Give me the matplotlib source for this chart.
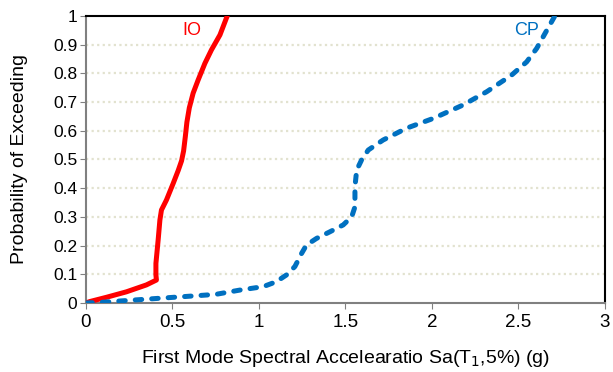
import matplotlib
matplotlib.use("Agg")
import matplotlib.pyplot as plt

plt.rcParams['font.family'] = ['Liberation Sans', 'DejaVu Sans']

# fragility curves (Sa in g, probability of exceeding)
io_sa = [0.0, 0.023, 0.12, 0.235, 0.35, 0.408, 0.405, 0.405, 0.418, 0.428, 0.437,
         0.466, 0.505, 0.534, 0.553, 0.565, 0.575, 0.584, 0.598, 0.62, 0.649, 0.688,
         0.726, 0.775, 0.817]
io_p = [0.0, 0.005, 0.02, 0.039, 0.063, 0.08, 0.098, 0.138, 0.22, 0.289, 0.324,
        0.359, 0.417, 0.462, 0.495, 0.53, 0.58, 0.63, 0.68, 0.731, 0.777, 0.835,
        0.882, 0.934, 1.0]

cp_sa = [0.0, 0.08, 0.27, 0.56, 0.75, 0.89, 1.025, 1.10, 1.16, 1.208, 1.247, 1.275,
         1.333, 1.41, 1.487, 1.536, 1.555, 1.555, 1.565, 1.593, 1.632, 1.718, 1.853,
         2.007, 2.18, 2.316, 2.46, 2.547, 2.605, 2.653, 2.71]
cp_p = [0.0, 0.002, 0.01, 0.022, 0.03, 0.045, 0.057, 0.074, 0.098, 0.127, 0.173,
        0.202, 0.225, 0.248, 0.272, 0.30, 0.335, 0.405, 0.463, 0.498, 0.533, 0.568,
        0.609, 0.643, 0.69, 0.736, 0.794, 0.84, 0.887, 0.939, 1.0]

xticks = [0, 0.5, 1, 1.5, 2, 2.5, 3]
xticklabels = ['0', '0.5', '1', '1.5', '2', '2.5', '3']
yticks = [0, 0.1, 0.2, 0.3, 0.4, 0.5, 0.6, 0.7, 0.8, 0.9, 1]
yticklabels = ['0', '0.1', '0.2', '0.3', '0.4', '0.5', '0.6', '0.7', '0.8', '0.9', '1']

fig = plt.figure(figsize=(6.13, 3.72), dpi=100)
ax = fig.add_axes([0.140, 0.1855, 0.847, 0.7715])

for y in yticks[1:-1]:
    ax.axhline(y, color='#e2e2cf', linestyle=(0, (1, 1.5)), linewidth=1.6, zorder=1)

ax.plot(io_sa, io_p, color='#ff0000', linewidth=3.6, solid_capstyle='round',
        solid_joinstyle='round', zorder=3)
ax.plot(cp_sa, cp_p, color='#0070c0', linewidth=3.6, dashes=(1.3, 2.0),
        dash_capstyle='round', dash_joinstyle='round', zorder=3)

ax.text(0.61, 0.951, 'IO', color='#ff0000', fontsize=13, ha='center', va='center')
ax.text(2.547, 0.951, 'CP', color='#0070c0', fontsize=13, ha='center', va='center')

ax.set_xlim(0, 3)
ax.set_ylim(0, 1)
ax.set_xticks(xticks)
ax.set_xticklabels(xticklabels)
ax.set_yticks(yticks)
ax.set_yticklabels(yticklabels)
ax.tick_params(length=4, color='#808080')
ax.tick_params(axis='x', labelsize=13.5, pad=4)
ax.tick_params(axis='y', labelsize=12.5, pad=2)

ax.spines['left'].set_color('#808080')
ax.spines['bottom'].set_color('#808080')
ax.spines['top'].set_color('#000000')
ax.spines['right'].set_color('#000000')
for s in ax.spines.values():
    s.set_linewidth(1.5)

ax.set_xlabel('First Mode Spectral Accelearatio Sa(T$_1$,5%) (g)', fontsize=14, labelpad=12)
ax.set_ylabel('Probability of Exceeding', fontsize=14, labelpad=18)

fig.savefig('out.png', dpi=100)
